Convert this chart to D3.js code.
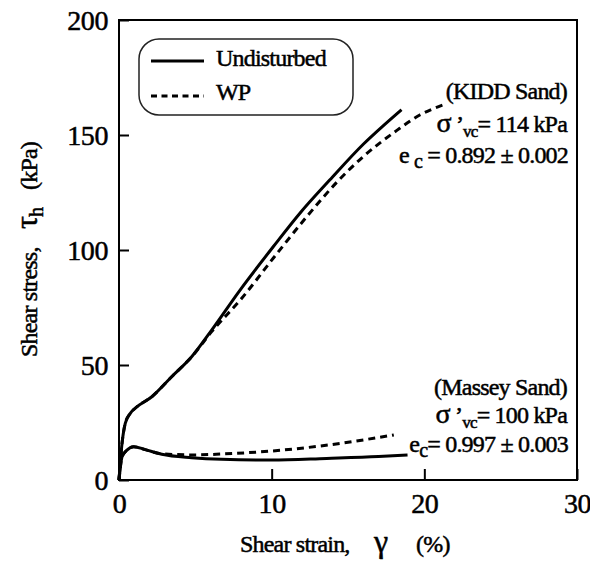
<!DOCTYPE html>
<html>
<head>
  <meta charset="utf-8">
  <title>Shear stress vs shear strain</title>
  <script src="https://cdn.jsdelivr.net/npm/d3@7/dist/d3.min.js"></script>
  <style>
    body { margin: 0; background: #fff; }
    text { font-family: "Liberation Serif", "Times New Roman", serif; fill: #000; stroke: #000; stroke-width: 0.5px; }
    .tick text { font-size: 28px; letter-spacing: -0.4px; }
    .tick line { stroke: #000; stroke-width: 2; }
    .note { font-size: 24px; letter-spacing: -0.8px; }
  </style>
</head>
<body>
<div id="box"></div>
<script>
  const width = 590
  const height = 574

  // plot frame
  const plot = { left: 119, right: 577, top: 20, bottom: 480 }

  // data: strain (%) and stress (kPa)
  const kiddUndStrain = [0, 0.2, 0.41, 0.74, 1.06, 2.15, 3.45, 4.76, 6.07, 7.93, 10.1, 11.85, 13.8, 16.0, 17.3, 18.5]
  const kiddUndStress = [0, 16, 24.6, 29, 31.2, 36.2, 44.9, 53.6, 65.2, 82.6, 101.4, 116, 130.4, 146, 154, 161]
  const kiddWpStrain = [0, 0.2, 0.41, 0.74, 1.06, 2.15, 3.45, 4.76, 6.07, 8.04, 10.1, 12.3, 14.3, 16.0, 18.2, 19.7, 21.2]
  const kiddWpStress = [0, 16, 24.6, 29, 31.2, 36.2, 44.9, 53.6, 64.5, 79, 96.4, 114.5, 129.7, 140.6, 152, 158.7, 163]
  const masseyUndStrain = [0, 0.2, 0.52, 0.96, 1.72, 2.8, 4.76, 6.72, 9.98, 13.6, 17, 18.9]
  const masseyUndStress = [0, 10.1, 13, 14.5, 13.2, 11.2, 9.7, 9.0, 8.7, 9.4, 10.2, 10.9]
  const masseyWpStrain = [0, 0.2, 0.52, 0.96, 1.72, 2.8, 4.98, 6.72, 9.98, 13.7, 18.0]
  const masseyWpStress = [0, 10.1, 13, 14.5, 13.2, 11.4, 10.9, 11.3, 12.6, 15.2, 19.6]

  const xTicks = [0, 10, 20, 30]
  const yTicks = [0, 50, 100, 150, 200]

  const xScale = d3.scaleLinear().domain([0, 30]).range([plot.left, plot.right])
  const yScale = d3.scaleLinear().domain([0, 200]).range([plot.bottom, plot.top])

  const svg = d3.select('#box').append('svg')
    .attr('width', width)
    .attr('height', height)

  // axes with inward ticks
  const xAxis = d3.axisBottom(xScale).tickValues(xTicks).tickSize(-11).tickPadding(13)
  const yAxis = d3.axisLeft(yScale).tickValues(yTicks).tickSize(-10).tickPadding(11)

  const gx = svg.append('g')
    .attr('transform', `translate(0,${plot.bottom})`)
    .call(xAxis)
  gx.select('.domain').remove()

  const gy = svg.append('g')
    .attr('transform', `translate(${plot.left},0)`)
    .call(yAxis)
  gy.select('.domain').remove()
  gy.selectAll('.tick text').attr('dy', '0.33em')

  // frame
  svg.append('rect')
    .attr('x', plot.left)
    .attr('y', plot.top)
    .attr('width', plot.right - plot.left)
    .attr('height', plot.bottom - plot.top)
    .attr('fill', 'none')
    .attr('stroke', '#000')
    .attr('stroke-width', 2)

  // curves
  const line = d3.line()
    .x(d => xScale(d[0]))
    .y(d => yScale(d[1]))
    .curve(d3.curveMonotoneX)

  const series = [
    { x: kiddUndStrain, y: kiddUndStress, dash: null },
    { x: kiddWpStrain, y: kiddWpStress, dash: '7,5' },
    { x: masseyUndStrain, y: masseyUndStress, dash: null },
    { x: masseyWpStrain, y: masseyWpStress, dash: '7,5' }
  ]

  series.forEach(s => {
    svg.append('path')
      .datum(s.x.map((v, i) => [v, s.y[i]]))
      .attr('d', line)
      .attr('fill', 'none')
      .attr('stroke', '#000')
      .attr('stroke-width', 3)
      .attr('stroke-dasharray', s.dash)
  })

  // legend
  const legend = svg.append('g')
  legend.append('rect')
    .attr('x', 139).attr('y', 39)
    .attr('width', 214).attr('height', 76)
    .attr('rx', 20).attr('ry', 20)
    .attr('fill', 'none')
    .attr('stroke', '#222')
    .attr('stroke-width', 1.5)
  legend.append('line')
    .attr('x1', 151).attr('x2', 204).attr('y1', 61).attr('y2', 61)
    .attr('stroke', '#000').attr('stroke-width', 2.8)
  legend.append('line')
    .attr('x1', 151).attr('x2', 204).attr('y1', 96).attr('y2', 96)
    .attr('stroke', '#000').attr('stroke-width', 2.8)
    .attr('stroke-dasharray', '6,4.5')
  legend.append('text').attr('class', 'note')
    .attr('x', 216).attr('y', 66).text('Undisturbed')
  legend.append('text').attr('class', 'note')
    .attr('x', 216).attr('y', 100).text('WP')

  // annotations
  function sigmaLine(y, value) {
    const t = svg.append('text').attr('class', 'note')
      .attr('x', 567).attr('y', y).attr('text-anchor', 'end')
    t.append('tspan').attr('font-size', 28).text('σ')
    t.append('tspan').text(' \u2019')
    t.append('tspan').attr('font-size', 17).attr('dy', 5).text('vc')
    t.append('tspan').attr('dy', -5).text('= ' + value + ' kPa')
  }

  svg.append('text').attr('class', 'note')
    .attr('x', 567).attr('y', 99).attr('text-anchor', 'end')
    .text('(KIDD Sand)')
  sigmaLine(132, '114')
  const ek = svg.append('text').attr('class', 'note')
    .attr('x', 568).attr('y', 163).attr('text-anchor', 'end')
  ek.append('tspan').text('e ')
  ek.append('tspan').attr('font-size', 20).attr('dy', 5).text('c')
  ek.append('tspan').attr('dy', -5).text(' = 0.892 ± 0.002')

  svg.append('text').attr('class', 'note')
    .attr('x', 567).attr('y', 395).attr('text-anchor', 'end')
    .text('(Massey Sand)')
  sigmaLine(423, '100')
  const em = svg.append('text').attr('class', 'note')
    .attr('x', 568).attr('y', 452).attr('text-anchor', 'end')
  em.append('tspan').text('e')
  em.append('tspan').attr('font-size', 20).attr('dy', 5).text('c')
  em.append('tspan').attr('dy', -5).text('= 0.997 ± 0.003')

  // axis titles
  const xt = svg.append('text').attr('class', 'note')
    .attr('x', 240).attr('y', 552)
  xt.append('tspan').text('Shear strain,')
  xt.append('tspan').attr('x', 374).attr('font-size', 32).text('γ')
  xt.append('tspan').attr('x', 416).text('(%)')

  const yt = svg.append('text').attr('class', 'note')
    .attr('transform', 'translate(37,357) rotate(-90)')
    .attr('x', 0).attr('y', 0)
  yt.append('tspan').text('Shear stress,')
  yt.append('tspan').attr('x', 128).attr('font-size', 32).text('τ')
  yt.append('tspan').attr('font-size', 20).attr('dy', 6).text('h')
  yt.append('tspan').attr('x', 167).attr('dy', -6).text('(kPa)')
</script>
</body>
</html>
